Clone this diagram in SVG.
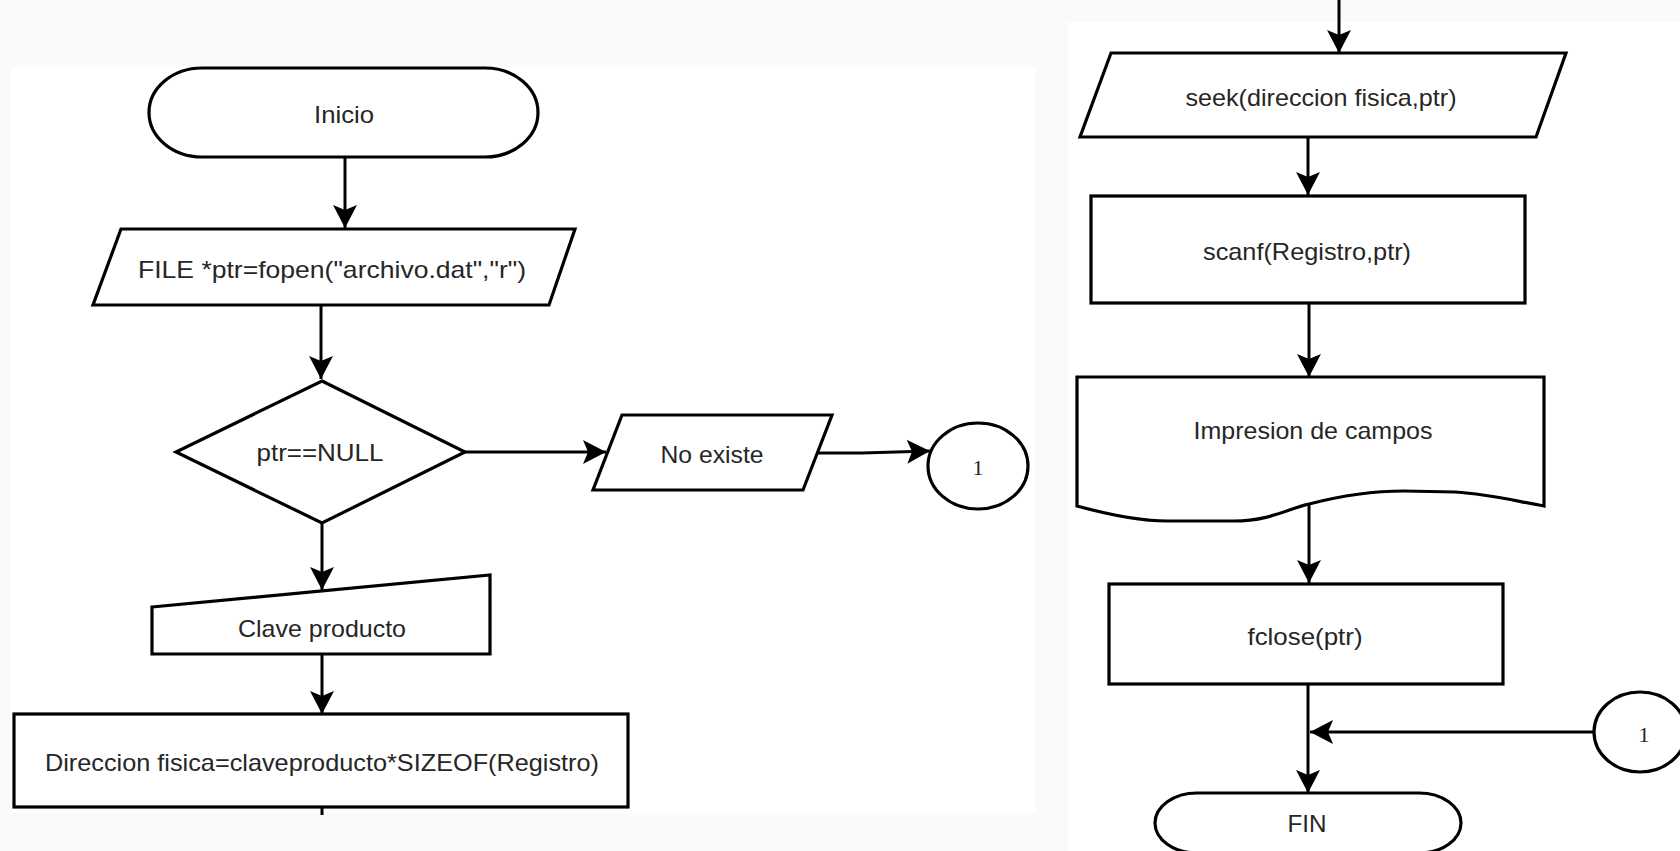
<svg xmlns="http://www.w3.org/2000/svg" width="1680" height="851" viewBox="0 0 1680 851">
  <defs>
    <style>
      .shape { fill: #ffffff; stroke: #000000; stroke-width: 3.2; stroke-linejoin: miter; }
      .edge { fill: none; stroke: #000000; stroke-width: 3; }
      .lbl { font-family: "Liberation Sans", "DejaVu Sans", Arial, sans-serif; font-size: 24px; fill: #262626; text-anchor: middle; dominant-baseline: central; }
      .num { font-family: "Liberation Serif", "DejaVu Serif", serif; font-size: 22px; fill: #262626; text-anchor: middle; dominant-baseline: central; }
    </style>
    <marker id="arrow" viewBox="-25 -13 26 26" refX="0" refY="0" markerWidth="26" markerHeight="26" markerUnits="userSpaceOnUse" orient="auto">
      <path d="M0,0 L-23,-12 L-18,0 L-23,12 Z" fill="#000000"/>
    </marker>
  </defs>

  <!-- page background and the two sheet areas -->
  <rect x="0" y="0" width="1680" height="851" fill="#fafafa"/>
  <rect x="11" y="67" width="1024" height="746" fill="#ffffff"/>
  <rect x="1068" y="22" width="612" height="829" fill="#ffffff"/>

  <!-- connectors -->
  <g id="connectors">
    <line class="edge" x1="345" y1="157" x2="345" y2="228" marker-end="url(#arrow)"/>
    <line class="edge" x1="321" y1="305" x2="321" y2="379" marker-end="url(#arrow)"/>
    <line class="edge" x1="465" y1="452" x2="606" y2="452" marker-end="url(#arrow)"/>
    <polyline class="edge" points="818,453 862,453 930,451" marker-end="url(#arrow)"/>
    <line class="edge" x1="322" y1="523" x2="322" y2="590" marker-end="url(#arrow)"/>
    <line class="edge" x1="322" y1="654" x2="322" y2="714" marker-end="url(#arrow)"/>
    <line class="edge" x1="322" y1="807" x2="322" y2="815"/>

    <line class="edge" x1="1339" y1="0" x2="1339" y2="53" marker-end="url(#arrow)"/>
    <line class="edge" x1="1308" y1="137" x2="1308" y2="195" marker-end="url(#arrow)"/>
    <line class="edge" x1="1309" y1="303" x2="1309" y2="377" marker-end="url(#arrow)"/>
    <line class="edge" x1="1309" y1="504" x2="1309" y2="583" marker-end="url(#arrow)"/>
    <line class="edge" x1="1308" y1="684" x2="1308" y2="793" marker-end="url(#arrow)"/>
    <line class="edge" x1="1594" y1="732" x2="1310" y2="732" marker-end="url(#arrow)"/>
  </g>

  <!-- left column -->
  <g id="inicio">
    <path class="shape" d="M202,68 L485,68 A53,44.5 0 0 1 485,157 L202,157 A53,44.5 0 0 1 202,68 Z"/>
    <text class="lbl" x="344" y="114" textLength="60" lengthAdjust="spacingAndGlyphs">Inicio</text>
  </g>

  <g id="abrir-archivo">
    <polygon class="shape" points="121,229 575,229 549,305 93,305"/>
    <text class="lbl" x="332" y="269" textLength="388" lengthAdjust="spacingAndGlyphs">FILE *ptr=fopen("archivo.dat","r")</text>
  </g>

  <g id="decision-null">
    <polygon class="shape" points="322,381 465,452 322,523 176,452"/>
    <text class="lbl" x="320" y="452" textLength="127" lengthAdjust="spacingAndGlyphs">ptr==NULL</text>
  </g>

  <g id="no-existe">
    <polygon class="shape" points="622,415 832,415 803,490 593,490"/>
    <text class="lbl" x="712" y="454" textLength="103" lengthAdjust="spacingAndGlyphs">No existe</text>
  </g>

  <g id="conector-1-salida">
    <ellipse class="shape" cx="978" cy="466" rx="50" ry="43"/>
    <text class="num" x="978" y="467">1</text>
  </g>

  <g id="clave-producto">
    <polygon class="shape" points="152,607 490,575 490,654 152,654"/>
    <text class="lbl" x="322" y="628" textLength="168" lengthAdjust="spacingAndGlyphs">Clave producto</text>
  </g>

  <g id="direccion-fisica">
    <rect class="shape" x="14" y="714" width="614" height="93"/>
    <text class="lbl" x="322" y="762" textLength="554" lengthAdjust="spacingAndGlyphs">Direccion fisica=claveproducto*SIZEOF(Registro)</text>
  </g>

  <!-- right column -->
  <g id="seek">
    <polygon class="shape" points="1111,53 1566,53 1536,137 1080,137"/>
    <text class="lbl" x="1321" y="97" textLength="271" lengthAdjust="spacingAndGlyphs">seek(direccion fisica,ptr)</text>
  </g>

  <g id="scanf">
    <rect class="shape" x="1091" y="196" width="434" height="107"/>
    <text class="lbl" x="1307" y="251" textLength="208" lengthAdjust="spacingAndGlyphs">scanf(Registro,ptr)</text>
  </g>

  <g id="impresion">
    <path class="shape" d="M1077,377 L1544,377 L1544,506 C1520,502 1490,494 1455,492 L1404,491 C1370,491 1340,496 1309,504 C1290,508 1270,521 1234,521 L1167,521 C1140,521 1110,515 1077,506 Z"/>
    <text class="lbl" x="1313" y="430" textLength="239" lengthAdjust="spacingAndGlyphs">Impresion de campos</text>
  </g>

  <g id="fclose">
    <rect class="shape" x="1109" y="584" width="394" height="100"/>
    <text class="lbl" x="1305" y="636" textLength="115" lengthAdjust="spacingAndGlyphs">fclose(ptr)</text>
  </g>

  <g id="conector-1-entrada">
    <ellipse class="shape" cx="1640" cy="732" rx="46" ry="40"/>
    <text class="num" x="1644" y="734">1</text>
  </g>

  <g id="fin">
    <path class="shape" d="M1197,793 L1419,793 A42,30 0 0 1 1419,853 L1197,853 A42,30 0 0 1 1197,793 Z"/>
    <text class="lbl" x="1307" y="823" textLength="39" lengthAdjust="spacingAndGlyphs">FIN</text>
  </g>
</svg>
